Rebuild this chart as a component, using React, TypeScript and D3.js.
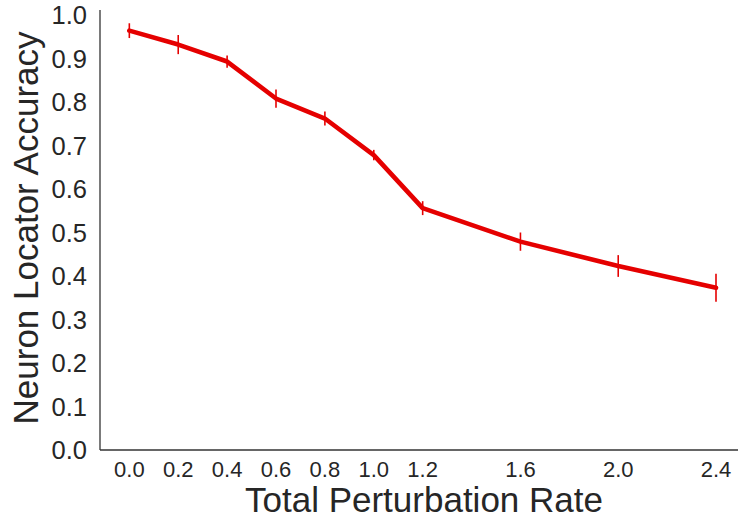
import React, { useEffect, useRef } from 'react';
import * as d3 from 'd3';

const rates = [0.0, 0.2, 0.4, 0.6, 0.8, 1.0, 1.2, 1.6, 2.0, 2.4];
const accuracy = [0.964, 0.932, 0.893, 0.808, 0.762, 0.678, 0.556, 0.479, 0.423, 0.373];
const errors = [0.017, 0.022, 0.014, 0.021, 0.016, 0.012, 0.016, 0.021, 0.025, 0.032];
const xTicks = [0.0, 0.2, 0.4, 0.6, 0.8, 1.0, 1.2, 1.6, 2.0, 2.4];
const yTicks = [0.0, 0.1, 0.2, 0.3, 0.4, 0.5, 0.6, 0.7, 0.8, 0.9, 1.0];

const width = 738;
const height = 518;
const font = 'Arial, "Liberation Sans", sans-serif';
const textColor = '#262626';
const lineColor = '#e50000';

const App = () => {
  const container = useRef(null);

  useEffect(() => {
    createChart();
  }, []);

  const createChart = () => {
    const svg = d3
      .select(container.current)
      .selectAll('svg')
      .data([0])
      .join('svg')
      .attr('width', width)
      .attr('height', height)
      .style('position', 'absolute')
      .style('left', 0)
      .style('top', 0)
      .style('background', '#fff');

    const xScale = d3.scaleLinear().domain([-0.12, 2.49]).range([100, 738]);
    const yScale = d3.scaleLinear().domain([0, 1.0115]).range([450, 10]);

    // spines
    svg
      .selectAll('.spine')
      .data([
        [100, 10, 100, 450],
        [100, 450, 738, 450]
      ])
      .join('line')
      .attr('class', 'spine')
      .attr('x1', d => d[0])
      .attr('y1', d => d[1])
      .attr('x2', d => d[2])
      .attr('y2', d => d[3])
      .style('stroke', '#333')
      .style('stroke-width', 1.3);

    // y tick labels
    svg
      .selectAll('.ytick')
      .data(yTicks)
      .join('text')
      .attr('class', 'ytick')
      .attr('x', 87)
      .attr('y', d => yScale(d))
      .attr('dy', '0.36em')
      .attr('text-anchor', 'end')
      .style('font-family', font)
      .style('font-size', '25.5px')
      .style('fill', textColor)
      .text(d => d3.format('.1f')(d));

    // x tick labels
    svg
      .selectAll('.xtick')
      .data(xTicks)
      .join('text')
      .attr('class', 'xtick')
      .attr('x', d => xScale(d))
      .attr('y', 477)
      .attr('text-anchor', 'middle')
      .style('font-family', font)
      .style('font-size', '22px')
      .style('fill', textColor)
      .text(d => d3.format('.1f')(d));

    // axis titles
    svg
      .selectAll('.xlabel')
      .data([0])
      .join('text')
      .attr('class', 'xlabel')
      .attr('x', 424)
      .attr('y', 512)
      .attr('text-anchor', 'middle')
      .style('font-family', font)
      .style('font-size', '35px')
      .style('fill', textColor)
      .text('Total Perturbation Rate');

    svg
      .selectAll('.ylabel')
      .data([0])
      .join('text')
      .attr('class', 'ylabel')
      .attr('transform', `translate(38,228)rotate(-90)`)
      .attr('text-anchor', 'middle')
      .style('font-family', font)
      .style('font-size', '35px')
      .style('fill', textColor)
      .text('Neuron Locator Accuracy');

    const points = rates.map((r, i) => ({ x: r, y: accuracy[i], e: errors[i] }));

    const line = d3
      .line()
      .x(d => xScale(d.x))
      .y(d => yScale(d.y));

    svg
      .selectAll('.series-line')
      .data([points])
      .join('path')
      .attr('class', 'series-line')
      .attr('d', line)
      .style('fill', 'none')
      .style('stroke', lineColor)
      .style('stroke-width', 4.6)
      .style('stroke-linejoin', 'round')
      .style('stroke-linecap', 'round');

    svg
      .selectAll('.errbar')
      .data(points)
      .join('line')
      .attr('class', 'errbar')
      .attr('x1', d => xScale(d.x))
      .attr('x2', d => xScale(d.x))
      .attr('y1', d => yScale(d.y - d.e))
      .attr('y2', d => yScale(d.y + d.e))
      .style('stroke', lineColor)
      .style('stroke-width', 1.6);
  };

  return <div className="chart-container" ref={container}></div>;
};

export default App;
